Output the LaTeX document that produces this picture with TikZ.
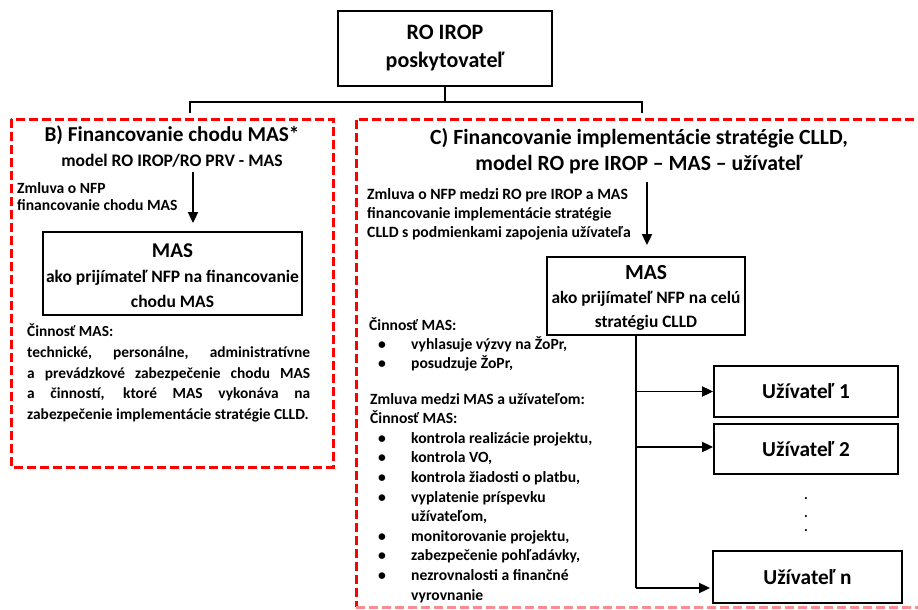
\documentclass[tikz,border=0pt]{standalone}
\usepackage{fontspec}
\setmainfont{Carlito}
\usetikzlibrary{arrows.meta}
\begin{document}
\begin{tikzpicture}[x=1pt,y=-1pt,font=\bfseries,
  box/.style={draw,line width=1.8pt,inner sep=0pt,align=center},
  reddash/.style={draw=red,line width=3pt,dash pattern=on 9pt off 4pt},
  conn/.style={line width=1.8pt},
  arr/.style={conn,-{Triangle[length=11pt,width=10pt]}},
  small/.style={font=\bfseries\fontsize{15.6}{19.6}\selectfont,inner sep=0pt,align=left},
  userbox/.style={box,font=\bfseries\fontsize{21.3}{24}\selectfont},
  dotnode/.style={font=\bfseries\fontsize{14}{14}\selectfont,inner sep=0pt},
  ]
\useasboundingbox (0,0) rectangle (918,610);
\clip (0,0) rectangle (918,610);

% top box
\node[box,minimum width=214pt,minimum height=75pt,font=\bfseries\fontsize{22}{28}\selectfont] (ro) at (445,48.5) {RO IROP\\poskytovateľ};

% dashed frames
\draw[reddash] (11,119) rectangle (333,467);
\draw[reddash] (940,119) -- (356,119) -- (356,607);
\draw[reddash,draw=red!45] (356,607) -- (940,607);

% hierarchy
\coordinate (split) at (445,102);
\coordinate (bj) at (190,113);
\coordinate (cj) at (642,113);
\draw[conn] (ro.south) -- (split);
\draw[conn] (bj) |- (split) -| (cj);

% B part
\node[font=\bfseries\fontsize{21.2}{24}\selectfont] (bt) at (172,135) {B) Financovanie chodu MAS*};
\node[font=\bfseries\fontsize{17.6}{20}\selectfont] (bs) at (172,161) {model RO IROP/RO PRV - MAS};
\node[small,font=\bfseries\fontsize{15.6}{17}\selectfont,anchor=north west] (bz) at (17,182) {Zmluva o NFP\\financovanie chodu MAS};
\node[box,minimum width=259pt,minimum height=83pt,font=\bfseries\fontsize{17.5}{25}\selectfont] (mb) at (172.5,273.5)
  {\rule{0pt}{18pt}{\fontsize{21}{25}\selectfont MAS}\\ako prijímateľ NFP na financovanie\\chodu MAS};
\coordinate (ba) at (193,172);
\draw[arr,shorten >=8pt] (ba) -- (ba |- mb.north);
\node[small,font=\bfseries\fontsize{15.4}{20.7}\selectfont,anchor=north west,text width=283pt,align=justify] (bp) at (27,324)
  {Činnosť MAS:\newline technické, personálne, administratívne\linebreak a~prevádzkové zabezpečenie chodu MAS\linebreak a~činností, ktoré MAS vykonáva na\linebreak zabezpečenie implementácie stratégie CLLD.};

% C part
\node[font=\bfseries\fontsize{21.7}{26}\selectfont,align=center] (ct) at (639,151) {C) Financovanie implementácie stratégie CLLD,\\model RO pre IROP – MAS – užívateľ};
\node[small,font=\bfseries\fontsize{15.7}{19}\selectfont,anchor=north west] (cz) at (367,188) {Zmluva o NFP medzi RO pre IROP a MAS\\financovanie implementácie stratégie\\CLLD s podmienkami zapojenia užívateľa};
\node[box,minimum width=198pt,minimum height=78pt,font=\bfseries\fontsize{17.4}{24}\selectfont] (mc) at (646,296)
  {\rule{0pt}{18pt}{\fontsize{21.5}{24}\selectfont MAS}\\ako prijímateľ NFP na celú\\stratégiu CLLD};
\coordinate (ca) at (647,182);
\draw[arr,shorten >=11pt] (ca) -- (ca |- mc.north);

\node[small,font=\bfseries\fontsize{15.6}{19}\selectfont,anchor=north west] (c1) at (369,317)
  {Činnosť MAS:\\
   \makebox[42pt][l]{\hspace{9pt}•}vyhlasuje výzvy na ŽoPr,\\
   \makebox[42pt][l]{\hspace{9pt}•}posudzuje ŽoPr,};
\node[small,anchor=north west] (c2) at (370,393)
  {Zmluva medzi MAS a užívateľom:\\
   Činnosť MAS:\\
   \makebox[41pt][l]{\hspace{8pt}•}kontrola realizácie projektu,\\
   \makebox[41pt][l]{\hspace{8pt}•}kontrola VO,\\
   \makebox[41pt][l]{\hspace{8pt}•}kontrola žiadosti o platbu,\\
   \makebox[41pt][l]{\hspace{8pt}•}vyplatenie príspevku\\
   \makebox[41pt][l]{}užívateľom,\\
   \makebox[41pt][l]{\hspace{8pt}•}monitorovanie projektu,\\
   \makebox[41pt][l]{\hspace{8pt}•}zabezpečenie pohľadávky,\\
   \makebox[41pt][l]{\hspace{8pt}•}nezrovnalosti a finančné\\
   \makebox[41pt][l]{}vyrovnanie};

% users
\node[userbox,minimum width=184pt,minimum height=51pt] (u1) at (806,391.5) {Užívateľ 1};
\node[userbox,minimum width=184pt,minimum height=50pt] (u2) at (806,449) {Užívateľ 2};
\node[userbox,minimum width=189pt,minimum height=52pt] (un) at (807.5,577) {Užívateľ n};
\node[dotnode] (d1) at (806,499) {.};
\node[dotnode] (d2) at (806,517) {.};
\node[dotnode] (d3) at (806,531) {.};

\coordinate (vl) at (636,588);
\draw[conn] (mc.south -| vl) -- (vl);
\draw[arr] (u1.west -| vl) -- (u1.west);
\draw[arr] (vl |- 0,447) -- (u2.west |- 0,447);
\draw[arr,shorten >=2pt] (vl) -- (vl -| un.west);
\end{tikzpicture}
\end{document}
